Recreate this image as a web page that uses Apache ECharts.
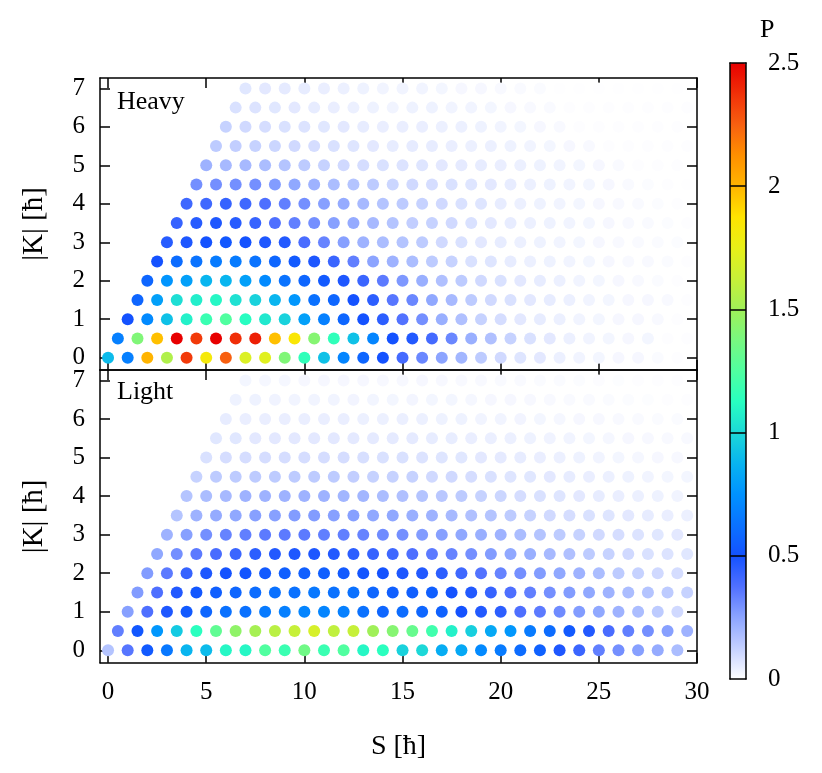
<!DOCTYPE html>
<html>
<head>
<meta charset="utf-8">
<script src="https://cdn.jsdelivr.net/npm/echarts@6/dist/echarts.min.js"></script>
<style>
  html, body { margin: 0; background: #fff; }
  #chart { width: 822px; height: 773px; }
</style>
</head>
<body>
<div id="chart"></div>
<script>
// |K| rows, each row starts at S = K and steps by 1 in S
const kLevels = [0, 0.5, 1, 1.5, 2, 2.5, 3, 3.5, 4, 4.5, 5, 5.5, 6, 6.5, 7]
const sTicks = [0, 5, 10, 15, 20, 25, 30]
const kTicks = [0, 1, 2, 3, 4, 5, 6, 7]
const pTicks = [0, 0.5, 1, 1.5, 2, 2.5]

// P values, one row per K level
const heavyP = [
  [0.9, 0.68, 2.0, 1.55, 2.35, 1.82, 2.25, 1.7, 1.72, 1.4, 1.15, 0.92, 0.7, 0.58, 0.5, 0.4, 0.32, 0.25, 0.2, 0.14, 0.1, 0.07, 0.06, 0.04, 0.03, 0.025, 0.02, 0.02, 0.01, 0.005],
  [0.68, 1.4, 1.97, 2.5, 2.35, 2.5, 2.38, 2.42, 1.97, 1.85, 1.42, 1.15, 0.92, 0.7, 0.5, 0.47, 0.4, 0.32, 0.22, 0.17, 0.12, 0.08, 0.06, 0.04, 0.03, 0.025, 0.02, 0.025, 0.005, 0.005],
  [0.5, 0.72, 0.92, 1.08, 1.18, 1.25, 1.12, 1.05, 0.98, 0.8, 0.68, 0.58, 0.5, 0.45, 0.37, 0.3, 0.22, 0.17, 0.12, 0.09, 0.06, 0.05, 0.04, 0.03, 0.025, 0.02, 0.02, 0.015, 0.005],
  [0.58, 0.8, 1.02, 1.07, 1.1, 1.03, 0.98, 0.88, 0.77, 0.62, 0.58, 0.5, 0.45, 0.36, 0.32, 0.24, 0.19, 0.14, 0.1, 0.08, 0.06, 0.05, 0.04, 0.03, 0.025, 0.02, 0.02, 0.015, 0.005],
  [0.58, 0.76, 0.8, 0.88, 0.88, 0.8, 0.72, 0.63, 0.58, 0.53, 0.48, 0.42, 0.35, 0.28, 0.22, 0.17, 0.14, 0.1, 0.08, 0.06, 0.05, 0.04, 0.03, 0.025, 0.02, 0.015, 0.01, 0.005],
  [0.5, 0.6, 0.63, 0.66, 0.66, 0.63, 0.58, 0.53, 0.48, 0.42, 0.34, 0.25, 0.21, 0.18, 0.14, 0.12, 0.08, 0.07, 0.05, 0.04, 0.035, 0.03, 0.025, 0.02, 0.015, 0.015, 0.01, 0.005],
  [0.46, 0.48, 0.5, 0.52, 0.5, 0.48, 0.47, 0.39, 0.33, 0.26, 0.21, 0.18, 0.16, 0.14, 0.1, 0.08, 0.06, 0.05, 0.04, 0.035, 0.03, 0.025, 0.02, 0.015, 0.012, 0.01, 0.008],
  [0.43, 0.46, 0.48, 0.46, 0.43, 0.38, 0.34, 0.3, 0.26, 0.23, 0.19, 0.16, 0.13, 0.12, 0.1, 0.08, 0.06, 0.05, 0.04, 0.035, 0.03, 0.025, 0.02, 0.015, 0.012, 0.008, 0.005],
  [0.41, 0.41, 0.43, 0.41, 0.38, 0.34, 0.3, 0.26, 0.23, 0.19, 0.16, 0.14, 0.12, 0.1, 0.08, 0.07, 0.05, 0.04, 0.035, 0.03, 0.025, 0.02, 0.015, 0.012, 0.008, 0.005],
  [0.3, 0.3, 0.3, 0.3, 0.27, 0.24, 0.21, 0.18, 0.16, 0.14, 0.11, 0.1, 0.09, 0.08, 0.07, 0.06, 0.05, 0.04, 0.035, 0.03, 0.025, 0.02, 0.012, 0.008, 0.005, 0.003],
  [0.21, 0.19, 0.19, 0.18, 0.16, 0.14, 0.12, 0.1, 0.09, 0.08, 0.075, 0.07, 0.06, 0.055, 0.05, 0.045, 0.04, 0.035, 0.03, 0.025, 0.02, 0.012, 0.005, 0.005, 0.005],
  [0.14, 0.13, 0.12, 0.11, 0.1, 0.09, 0.08, 0.07, 0.06, 0.05, 0.052, 0.05, 0.045, 0.04, 0.04, 0.035, 0.03, 0.025, 0.02, 0.015, 0.005, 0.005, 0.005, 0.005, 0.005],
  [0.12, 0.1, 0.09, 0.08, 0.075, 0.065, 0.06, 0.05, 0.045, 0.045, 0.045, 0.04, 0.04, 0.035, 0.03, 0.025, 0.02, 0.015, 0.005, 0.005, 0.005, 0.005, 0.005, 0.005],
  [0.08, 0.075, 0.065, 0.06, 0.05, 0.045, 0.04, 0.035, 0.03, 0.035, 0.035, 0.03, 0.03, 0.025, 0.02, 0.015, 0.012, 0.004, 0.004, 0.004, 0.004, 0.004, 0.004, 0.004],
  [0.065, 0.06, 0.055, 0.05, 0.045, 0.04, 0.035, 0.03, 0.03, 0.03, 0.025, 0.02, 0.02, 0.015, 0.012, 0.01, 0.003, 0.003, 0.003, 0.003, 0.003, 0.003, 0.003],
]

// P values
const lightP = [
  [0.16, 0.36, 0.53, 0.65, 0.88, 0.9, 1.1, 1.1, 1.25, 1.18, 1.35, 1.18, 1.25, 1.1, 1.13, 0.98, 1.0, 0.85, 0.83, 0.72, 0.66, 0.6, 0.56, 0.48, 0.42, 0.34, 0.3, 0.26, 0.23, 0.18],
  [0.34, 0.52, 0.77, 0.95, 1.13, 1.3, 1.45, 1.52, 1.58, 1.62, 1.68, 1.6, 1.62, 1.5, 1.42, 1.32, 1.2, 1.08, 0.97, 0.83, 0.77, 0.66, 0.6, 0.53, 0.47, 0.39, 0.34, 0.3, 0.26, 0.21],
  [0.26, 0.38, 0.48, 0.53, 0.58, 0.62, 0.62, 0.66, 0.68, 0.7, 0.7, 0.68, 0.62, 0.58, 0.6, 0.58, 0.56, 0.5, 0.47, 0.45, 0.38, 0.35, 0.31, 0.27, 0.24, 0.21, 0.18, 0.14, 0.1],
  [0.27, 0.38, 0.47, 0.52, 0.55, 0.58, 0.6, 0.62, 0.62, 0.65, 0.62, 0.62, 0.58, 0.55, 0.55, 0.55, 0.5, 0.47, 0.43, 0.38, 0.34, 0.3, 0.27, 0.24, 0.21, 0.18, 0.16, 0.14, 0.12],
  [0.27, 0.35, 0.43, 0.48, 0.5, 0.51, 0.53, 0.55, 0.55, 0.55, 0.53, 0.51, 0.5, 0.48, 0.47, 0.45, 0.41, 0.37, 0.33, 0.3, 0.27, 0.24, 0.21, 0.18, 0.14, 0.12, 0.1, 0.09],
  [0.24, 0.3, 0.35, 0.39, 0.42, 0.45, 0.47, 0.48, 0.48, 0.47, 0.45, 0.43, 0.41, 0.38, 0.35, 0.33, 0.3, 0.27, 0.24, 0.22, 0.19, 0.17, 0.14, 0.12, 0.1, 0.08, 0.075, 0.065],
  [0.21, 0.26, 0.3, 0.33, 0.34, 0.35, 0.35, 0.35, 0.34, 0.34, 0.33, 0.31, 0.3, 0.27, 0.26, 0.24, 0.22, 0.21, 0.18, 0.16, 0.14, 0.12, 0.1, 0.09, 0.075, 0.065, 0.06],
  [0.16, 0.21, 0.23, 0.24, 0.26, 0.26, 0.27, 0.27, 0.26, 0.26, 0.24, 0.24, 0.22, 0.21, 0.19, 0.17, 0.16, 0.14, 0.12, 0.1, 0.09, 0.08, 0.07, 0.06, 0.05, 0.045, 0.04],
  [0.16, 0.18, 0.19, 0.21, 0.21, 0.21, 0.21, 0.21, 0.2, 0.2, 0.18, 0.17, 0.16, 0.15, 0.14, 0.12, 0.11, 0.09, 0.08, 0.07, 0.06, 0.05, 0.045, 0.04, 0.035, 0.03],
  [0.12, 0.14, 0.14, 0.14, 0.14, 0.14, 0.14, 0.14, 0.13, 0.12, 0.12, 0.12, 0.1, 0.1, 0.09, 0.08, 0.07, 0.065, 0.06, 0.05, 0.045, 0.04, 0.035, 0.03, 0.025, 0.025],
  [0.08, 0.09, 0.09, 0.09, 0.09, 0.09, 0.09, 0.09, 0.085, 0.08, 0.08, 0.075, 0.07, 0.065, 0.06, 0.055, 0.05, 0.045, 0.04, 0.035, 0.03, 0.025, 0.022, 0.02, 0.018],
  [0.065, 0.065, 0.06, 0.06, 0.06, 0.06, 0.06, 0.058, 0.055, 0.055, 0.055, 0.05, 0.048, 0.045, 0.042, 0.04, 0.035, 0.032, 0.03, 0.025, 0.022, 0.02, 0.018, 0.015, 0.015],
  [0.05, 0.045, 0.045, 0.045, 0.045, 0.045, 0.045, 0.04, 0.04, 0.042, 0.04, 0.035, 0.035, 0.03, 0.03, 0.028, 0.025, 0.022, 0.02, 0.018, 0.015, 0.012, 0.01, 0.01],
  [0.035, 0.035, 0.032, 0.03, 0.03, 0.03, 0.028, 0.027, 0.025, 0.026, 0.025, 0.025, 0.022, 0.02, 0.02, 0.018, 0.015, 0.013, 0.012, 0.01, 0.008, 0.006, 0.005, 0.005],
  [0.025, 0.022, 0.022, 0.02, 0.02, 0.02, 0.02, 0.018, 0.018, 0.02, 0.018, 0.015, 0.015, 0.012, 0.012, 0.01, 0.01, 0.008, 0.007, 0.006, 0.005, 0.005, 0.004],
]

// colour ramp, evenly spaced from P = 0 to 2.5
const palette = [
  '#ffffff', '#c4d0ff', '#8ca4ff', '#5070ff', '#1452ff', '#0a72ff', '#0092ff',
  '#08b4f0', '#1cd8d8', '#28ffc0', '#50ffa0', '#78f880', '#a0f058', '#c8f038',
  '#e8f018', '#ffe400', '#ffb400', '#ff9000', '#f86010', '#f03008', '#e80000',
]

const FONT = 'Liberation Serif'
const INK = '#000'

function points(rows) {
  const out = []
  rows.forEach((row, i) => {
    const k = kLevels[i]
    row.forEach((p, j) => out.push([k + j, k, p]))
  })
  return out
}

const line = { color: INK, width: 1.5 }
const labelStyle = { color: INK, fontFamily: FONT, fontSize: 25 }

function sAxis(grid, position, withLabels) {
  return {
    type: 'value', gridIndex: grid, position, min: -0.41, max: 30,
    axisLine: { show: true, onZero: false, lineStyle: line },
    axisTick: { show: true, inside: true, length: 10, customValues: sTicks, lineStyle: line },
    axisLabel: { show: withLabels, customValues: sTicks, margin: 17, ...labelStyle },
    splitLine: { show: false },
  }
}

function kAxis(grid, position, withLabels) {
  return {
    type: 'value', gridIndex: grid, position, min: -0.32, max: 7.27,
    axisLine: { show: true, onZero: false, lineStyle: line },
    axisTick: { show: true, inside: true, length: 10, customValues: kTicks, lineStyle: line },
    axisLabel: { show: withLabels, customValues: kTicks, margin: 15, ...labelStyle },
    splitLine: { show: false },
    name: withLabels ? '|K| [ħ]' : '',
    nameLocation: 'middle',
    nameGap: 51,
    nameTextStyle: { color: INK, fontFamily: FONT, fontSize: 29 },
  }
}

const xBottom = sAxis(1, 'bottom', true)
xBottom.name = 'S [ħ]'
xBottom.nameLocation = 'middle'
xBottom.nameGap = 70
xBottom.nameTextStyle = { color: INK, fontFamily: FONT, fontSize: 28 }

const panelText = { color: INK, fontFamily: FONT, fontSize: 26, fontWeight: 'normal' }

const chart = echarts.init(document.getElementById('chart'))
chart.setOption({
  animation: false,
  backgroundColor: '#fff',
  title: [
    { text: 'Heavy', left: 117, top: 89, padding: 0, textStyle: panelText },
    { text: 'Light', left: 117, top: 379, padding: 0, textStyle: panelText },
    { text: 'P', left: 760, top: 17, padding: 0, textStyle: panelText },
  ],
  grid: [
    { left: 100, top: 78, width: 597, height: 292 },
    { left: 100, top: 370, width: 597, height: 292.7 },
    { left: 730, top: 63, width: 16, height: 616 },
  ],
  xAxis: [
    sAxis(0, 'bottom', false),
    sAxis(0, 'top', false),
    xBottom,
    sAxis(1, 'top', false),
    { type: 'value', gridIndex: 2, position: 'bottom', min: 0, max: 1, z: 6,
      axisLine: { show: true, onZero: false, lineStyle: line }, axisTick: { show: false },
      axisLabel: { show: false }, splitLine: { show: false } },
    { type: 'value', gridIndex: 2, position: 'top', min: 0, max: 1, z: 6,
      axisLine: { show: true, onZero: false, lineStyle: line }, axisTick: { show: false },
      axisLabel: { show: false }, splitLine: { show: false } },
  ],
  yAxis: [
    kAxis(0, 'left', true),
    kAxis(0, 'right', false),
    kAxis(1, 'left', true),
    kAxis(1, 'right', false),
    { type: 'value', gridIndex: 2, position: 'right', min: 0, max: 2.5, interval: 0.5, z: 6,
      axisLine: { show: true, onZero: false, lineStyle: line },
      axisTick: { show: true, inside: true, length: 16, customValues: [0.5, 1, 1.5, 2], lineStyle: line },
      axisLabel: { customValues: pTicks, margin: 22, formatter: v => String(v), ...labelStyle },
      splitLine: { show: false } },
    { type: 'value', gridIndex: 2, position: 'left', min: 0, max: 2.5, z: 6,
      axisLine: { show: true, onZero: false, lineStyle: line }, axisTick: { show: false },
      axisLabel: { show: false }, splitLine: { show: false } },
  ],
  visualMap: {
    type: 'continuous',
    min: 0, max: 2.5,
    dimension: 2,
    seriesIndex: [0, 1],
    calculable: false,
    hoverLink: false,
    padding: 0,
    left: 730, top: 63,
    itemWidth: 16, itemHeight: 616,
    inRange: { color: palette },
  },
  series: [
    { type: 'scatter', xAxisIndex: 0, yAxisIndex: 0, symbolSize: 12, silent: true,
      itemStyle: { opacity: 1 }, data: points(heavyP) },
    { type: 'scatter', xAxisIndex: 2, yAxisIndex: 2, symbolSize: 12, silent: true,
      itemStyle: { opacity: 1 }, data: points(lightP) },
  ],
})
</script>
</body>
</html>
